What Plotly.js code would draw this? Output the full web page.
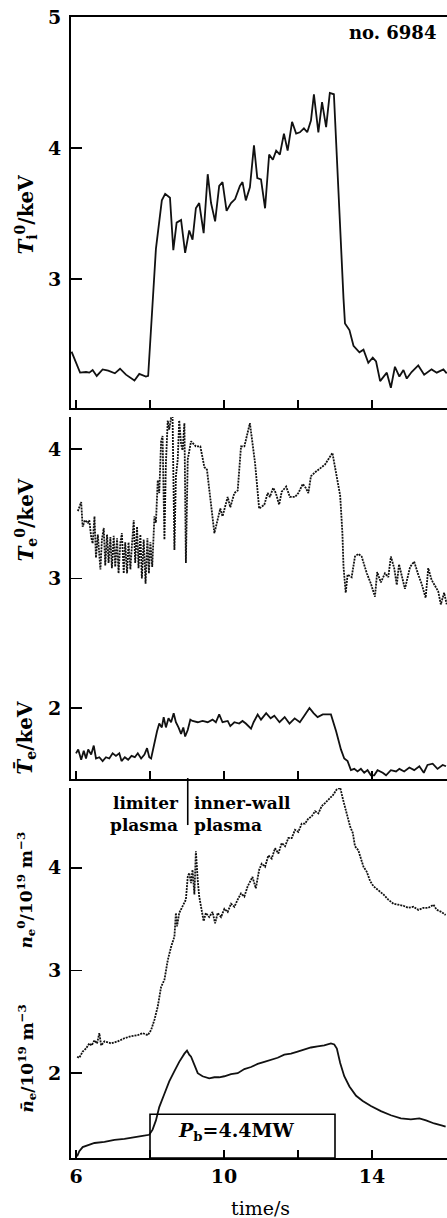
<!DOCTYPE html>
<html>
<head>
<meta charset="utf-8">
<script src="https://cdn.plot.ly/plotly-3.0.1.min.js"></script>
<style>
html,body{margin:0;padding:0;background:#fff;}
#chart{width:447px;height:1218px;}
</style>
</head>
<body>
<div id="chart"></div>
<script>
// ---- Data (shot no. 6984) ----
const tTi = [5.88,6.11,6.27,6.36,6.45,6.56,6.72,6.87,7.05,7.19,7.35,7.58,7.71,7.89,7.95,8.05,8.16,8.32,8.41,8.54,8.63,8.72,8.84,8.95,9.06,9.15,9.24,9.33,9.45,9.56,9.65,9.76,9.87,9.96,10.07,10.19,10.30,10.43,10.50,10.59,10.70,10.81,10.90,11.00,11.11,11.22,11.32,11.41,11.51,11.62,11.72,11.84,11.95,12.05,12.16,12.25,12.35,12.43,12.55,12.65,12.76,12.86,12.97,13.23,13.27,13.39,13.50,13.66,13.77,13.90,14.02,14.11,14.22,14.40,14.51,14.62,14.74,14.85,14.94,15.07,15.25,15.41,15.61,15.75,15.93,16.02];
const Ti0 = [2.445,2.285,2.29,2.285,2.305,2.26,2.31,2.30,2.28,2.315,2.27,2.225,2.275,2.255,2.26,2.70,3.23,3.60,3.65,3.62,3.22,3.43,3.45,3.20,3.37,3.30,3.54,3.58,3.35,3.80,3.58,3.44,3.71,3.74,3.52,3.58,3.61,3.71,3.74,3.60,3.70,4.02,3.77,3.76,3.54,3.95,3.91,3.98,3.95,4.11,3.98,4.20,4.11,4.12,4.15,4.12,4.21,4.41,4.12,4.35,4.16,4.42,4.41,2.85,2.66,2.61,2.49,2.44,2.46,2.36,2.40,2.37,2.22,2.285,2.17,2.33,2.255,2.305,2.24,2.29,2.34,2.27,2.31,2.285,2.31,2.28];

const tTe0 = [6.05,6.14,6.18,6.24,6.32,6.36,6.41,6.45,6.50,6.54,6.59,6.66,6.70,6.75,6.79,6.84,6.88,6.93,6.97,7.02,7.06,7.11,7.15,7.20,7.24,7.29,7.33,7.38,7.42,7.47,7.51,7.56,7.60,7.65,7.69,7.74,7.78,7.83,7.88,7.93,7.97,8.01,8.06,8.12,8.16,8.21,8.25,8.30,8.34,8.39,8.43,8.48,8.52,8.57,8.61,8.66,8.70,8.75,8.79,8.84,8.88,8.93,8.97,9.02,9.11,9.24,9.36,9.47,9.54,9.74,9.90,9.96,10.10,10.17,10.28,10.37,10.46,10.55,10.70,10.84,10.95,11.09,11.18,11.24,11.33,11.40,11.49,11.56,11.68,11.78,11.92,12.01,12.13,12.21,12.28,12.35,12.46,12.59,12.73,12.93,13.05,13.09,13.14,13.20,13.23,13.29,13.34,13.45,13.54,13.63,13.72,13.86,13.97,14.08,14.14,14.24,14.35,14.44,14.51,14.60,14.67,14.73,14.80,14.89,15.03,15.14,15.25,15.34,15.45,15.52,15.61,15.70,15.79,15.86,15.95,16.02];
const Te0 = [3.52,3.59,3.40,3.45,3.43,3.45,3.32,3.27,3.48,3.16,3.34,3.07,3.30,3.39,3.10,3.34,3.12,3.32,3.08,3.33,3.09,3.31,3.04,3.28,3.35,3.04,3.28,3.04,3.28,3.07,3.25,3.45,3.12,3.40,3.08,3.34,3.00,3.30,2.96,3.31,3.04,3.28,3.09,3.48,3.43,3.76,3.66,4.06,4.10,3.30,3.89,4.22,4.15,4.24,4.25,3.22,3.79,3.92,4.22,4.04,3.99,4.20,3.12,3.92,4.06,4.02,4.02,3.86,3.84,3.35,3.54,3.48,3.63,3.55,3.66,3.68,4.02,4.02,4.20,3.89,3.54,3.57,3.66,3.63,3.70,3.66,3.57,3.67,3.71,3.63,3.63,3.66,3.73,3.70,3.66,3.79,3.82,3.85,3.88,3.97,3.79,3.72,3.64,3.35,3.09,2.89,3.03,3.01,3.17,3.19,3.17,3.04,2.96,2.86,3.05,2.97,3.04,3.01,3.17,3.08,2.95,3.11,3.03,2.92,3.09,3.13,3.03,2.96,2.85,3.08,2.99,2.94,2.90,2.80,2.89,2.80];

const tTeBar = [6.0,6.06,6.14,6.21,6.27,6.33,6.41,6.48,6.54,6.63,6.72,6.81,6.90,6.99,7.08,7.17,7.23,7.32,7.41,7.50,7.59,7.67,7.76,7.85,7.92,7.98,8.03,8.10,8.19,8.25,8.32,8.37,8.43,8.50,8.57,8.64,8.70,8.77,8.84,8.90,8.95,9.02,9.09,9.15,9.29,9.42,9.56,9.69,9.78,9.87,9.96,10.10,10.17,10.28,10.41,10.50,10.59,10.73,10.80,10.91,11.00,11.14,11.26,11.36,11.50,11.64,11.77,11.91,12.05,12.17,12.31,12.42,12.53,12.67,12.89,13.03,13.16,13.25,13.34,13.43,13.52,13.61,13.70,13.79,13.88,13.97,14.06,14.15,14.29,14.38,14.51,14.65,14.74,14.87,15.01,15.14,15.28,15.40,15.50,15.64,15.77,15.91,16.0];
const TeBar = [1.65,1.68,1.60,1.67,1.61,1.68,1.64,1.71,1.61,1.62,1.59,1.62,1.61,1.65,1.63,1.65,1.59,1.62,1.60,1.63,1.62,1.65,1.61,1.64,1.69,1.62,1.61,1.71,1.82,1.88,1.85,1.93,1.85,1.92,1.89,1.96,1.89,1.85,1.80,1.85,1.78,1.83,1.91,1.90,1.89,1.90,1.89,1.91,1.89,1.95,1.89,1.90,1.86,1.89,1.88,1.90,1.88,1.84,1.89,1.95,1.91,1.96,1.92,1.94,1.89,1.93,1.88,1.92,1.89,1.94,2.00,1.96,1.93,1.95,1.95,1.82,1.68,1.61,1.59,1.52,1.53,1.51,1.53,1.50,1.52,1.48,1.48,1.52,1.50,1.48,1.52,1.51,1.53,1.51,1.54,1.52,1.55,1.50,1.56,1.57,1.53,1.56,1.55];

const tNe0 = [6.03,6.09,6.18,6.27,6.36,6.42,6.50,6.57,6.63,6.68,6.77,6.95,7.13,7.31,7.49,7.67,7.80,7.94,8.03,8.12,8.21,8.30,8.39,8.48,8.57,8.66,8.70,8.73,8.79,8.88,8.97,9.02,9.06,9.11,9.15,9.20,9.24,9.29,9.33,9.38,9.45,9.51,9.60,9.69,9.76,9.83,9.92,10.01,10.10,10.19,10.28,10.37,10.46,10.55,10.64,10.77,10.86,10.95,11.02,11.11,11.20,11.29,11.38,11.47,11.56,11.65,11.74,11.83,11.92,12.01,12.10,12.19,12.28,12.37,12.46,12.55,12.64,12.73,12.82,12.95,13.04,13.14,13.22,13.31,13.41,13.48,13.54,13.63,13.70,13.77,13.86,13.95,14.04,14.17,14.31,14.44,14.58,14.71,14.85,14.98,15.12,15.25,15.39,15.52,15.66,15.75,15.88,15.99];
const ne0 = [2.16,2.15,2.21,2.24,2.29,2.27,2.32,2.29,2.39,2.27,2.31,2.29,2.31,2.34,2.36,2.37,2.39,2.37,2.42,2.52,2.65,2.84,2.91,3.10,3.23,3.33,3.56,3.43,3.56,3.62,3.69,3.91,3.95,3.85,3.98,3.74,4.16,3.88,3.72,3.62,3.48,3.56,3.52,3.57,3.46,3.56,3.52,3.60,3.57,3.65,3.62,3.69,3.75,3.72,3.82,3.91,3.80,3.98,4.04,4.01,4.12,4.09,4.19,4.14,4.24,4.21,4.29,4.29,4.37,4.35,4.43,4.43,4.48,4.50,4.55,4.53,4.60,4.63,4.66,4.71,4.76,4.78,4.66,4.53,4.40,4.34,4.21,4.17,4.08,4.01,3.96,3.87,3.82,3.78,3.74,3.69,3.65,3.64,3.63,3.61,3.62,3.59,3.61,3.61,3.64,3.59,3.57,3.54];

const tNeBar = [6.03,6.09,6.18,6.32,6.50,6.77,7.04,7.31,7.58,7.80,7.98,8.07,8.16,8.25,8.39,8.52,8.66,8.79,8.93,9.00,9.06,9.11,9.20,9.29,9.42,9.60,9.74,9.87,10.01,10.19,10.37,10.55,10.73,10.91,11.09,11.27,11.45,11.63,11.81,11.99,12.17,12.35,12.53,12.71,12.89,12.98,13.05,13.14,13.25,13.39,13.57,13.75,13.97,14.24,14.51,14.78,15.05,15.28,15.46,15.68,15.90,15.99];
const neBar = [1.19,1.24,1.28,1.30,1.32,1.33,1.35,1.36,1.38,1.39,1.40,1.45,1.54,1.67,1.80,1.92,2.02,2.11,2.19,2.22,2.18,2.16,2.08,2.00,1.97,1.95,1.96,1.96,1.97,1.99,2.00,2.04,2.06,2.09,2.11,2.13,2.15,2.18,2.19,2.21,2.23,2.25,2.26,2.27,2.29,2.28,2.24,2.10,1.97,1.87,1.78,1.73,1.68,1.63,1.59,1.56,1.55,1.56,1.54,1.51,1.49,1.48];

// tick labels
const xMajorTicks = [6,10,14];
const xMajorText = ['6','10','14'];
const xMinorStep = 2;
const yTopTicks = [3,4,5];
const yMidTicks = [2,3,4];
const yBotTicks = [2,3,4];

// beam pulse
const beamStart = 8.0, beamEnd = 13.0, beamLabel = '<i>P</i><sub>b</sub>=4.4MW';

// ---- Plot ----
const SERIF = 'DejaVu Serif';
const solid = {color:'#111', width:1.8};
const dotted = {color:'#111', width:1.8, dash:'2px,1px'};

const traces = [
  {x:tTi, y:Ti0, xaxis:'x3', yaxis:'y3', mode:'lines', line:solid, hoverinfo:'skip'},
  {x:tTe0, y:Te0, xaxis:'x2', yaxis:'y2', mode:'lines', line:dotted, hoverinfo:'skip'},
  {x:tTeBar, y:TeBar, xaxis:'x2', yaxis:'y2', mode:'lines', line:solid, hoverinfo:'skip'},
  {x:tNe0, y:ne0, xaxis:'x', yaxis:'y', mode:'lines', line:dotted, hoverinfo:'skip'},
  {x:tNeBar, y:neBar, xaxis:'x', yaxis:'y', mode:'lines', line:solid, hoverinfo:'skip'}
];

const xr = [5.865, 16.027];
const tickFont = {family:SERIF, size:19, color:'#000', weight:'bold'};
function xa(anchor, labels, mirror){
  return {anchor:anchor, range:xr, tickmode:'array', tickvals:xMajorTicks, ticktext:xMajorText,
    showticklabels:labels, ticks:'inside', ticklen:8, tickwidth:1.6, tickcolor:'#000',
    minor:{tick0:6, dtick:xMinorStep, ticks:'inside', ticklen:8, tickwidth:1.6, tickcolor:'#000', showgrid:false},
    showline:true, linewidth:2, linecolor:'#000', mirror:mirror, showgrid:false, zeroline:false,
    tickfont:tickFont, ticklabelstandoff:0, fixedrange:true};
}
function ya(anchor, dom, rng, tv){
  return {anchor:anchor, domain:dom, range:rng, tickmode:'array', tickvals:tv,
    ticks:'inside', ticklen:11, tickwidth:1.6, tickcolor:'#000',
    showline:true, linewidth:2, linecolor:'#000', showgrid:false, zeroline:false,
    tickfont:tickFont, ticklabelstandoff:4, fixedrange:true};
}

function ylab(text, y, size){
  return {text:text, xref:'paper', yref:'paper', x:-0.118, y:y, textangle:-90,
    showarrow:false, xanchor:'center', yanchor:'middle',
    font:{family:SERIF, size:size||18, color:'#000', weight:'bold'}};
}

const layout = {
  width:447, height:1218,
  margin:{l:71, r:0, t:17, b:60},
  paper_bgcolor:'#fff', plot_bgcolor:'#fff',
  showlegend:false,
  font:{family:SERIF, color:'#000'},
  xaxis:xa('y', true, false),
  xaxis2:xa('y2', false, false),
  xaxis3:xa('y3', false, true),
  yaxis:ya('x', [0, 0.3243], [1.174, 4.777], yBotTicks),
  yaxis2:ya('x2', [0.3322, 0.6494], [1.452, 4.247], yMidTicks),
  yaxis3:ya('x3', [0.6573, 1], [2.015, 5.0], yTopTicks),
  shapes:[
    {type:'rect', xref:'x', yref:'y', x0:beamStart, x1:beamEnd, y0:1.174, y1:1.60,
     line:{color:'#000', width:1.6}, fillcolor:'rgba(0,0,0,0)'},
    {type:'line', xref:'x', yref:'paper', x0:9.02, x1:9.02, y0:0.3330, y1:0.2918,
     line:{color:'#000', width:1.6}}
  ],
  annotations:[
    {text:'no. 6984', xref:'paper', yref:'paper', x:(438-71)/376, y:0.986, xanchor:'right', yanchor:'middle',
     showarrow:false, font:{family:SERIF, size:18, color:'#000', weight:'bold'}},
    ylab('<i>T</i><sub>i</sub><sup>0</sup>/keV', 0.8265, 20),
    ylab('<i>T</i><sub>e</sub><sup>0</sup>/keV', 0.5592, 20),
    ylab('<i>T\u0304</i><sub>e</sub>/keV', 0.3681, 20),
    ylab('<i>n</i><sub>e</sub><sup>0</sup>/10<sup>19</sup> m<sup>\u22123</sup>', 0.2349, 17),
    ylab('<i>n\u0304</i><sub>e</sub>/10<sup>19</sup> m<sup>\u22123</sup>', 0.0876, 17),
    {text:'limiter<br>plasma', xref:'x', yref:'paper', x:8.84, y:0.3015, xanchor:'right', yanchor:'middle', align:'right',
     showarrow:false, font:{family:SERIF, size:17, color:'#000', weight:'bold'}},
    {text:'inner-wall<br>plasma', xref:'x', yref:'paper', x:9.13, y:0.3015, xanchor:'left', yanchor:'middle', align:'left',
     showarrow:false, font:{family:SERIF, size:17, color:'#000', weight:'bold'}},
    {text:beamLabel, xref:'x', yref:'y', x:10.35, y:1.43, xanchor:'center', yanchor:'middle',
     showarrow:false, font:{family:SERIF, size:19, color:'#000', weight:'bold'}},
    {text:'time/s', xref:'paper', yref:'paper', x:(260-71)/376, y:-0.0438, xanchor:'center', yanchor:'middle',
     showarrow:false, font:{family:SERIF, size:19, color:'#000'}}
  ]
};

Plotly.newPlot('chart', traces, layout, {staticPlot:true, displayModeBar:false});
</script>
</body>
</html>
